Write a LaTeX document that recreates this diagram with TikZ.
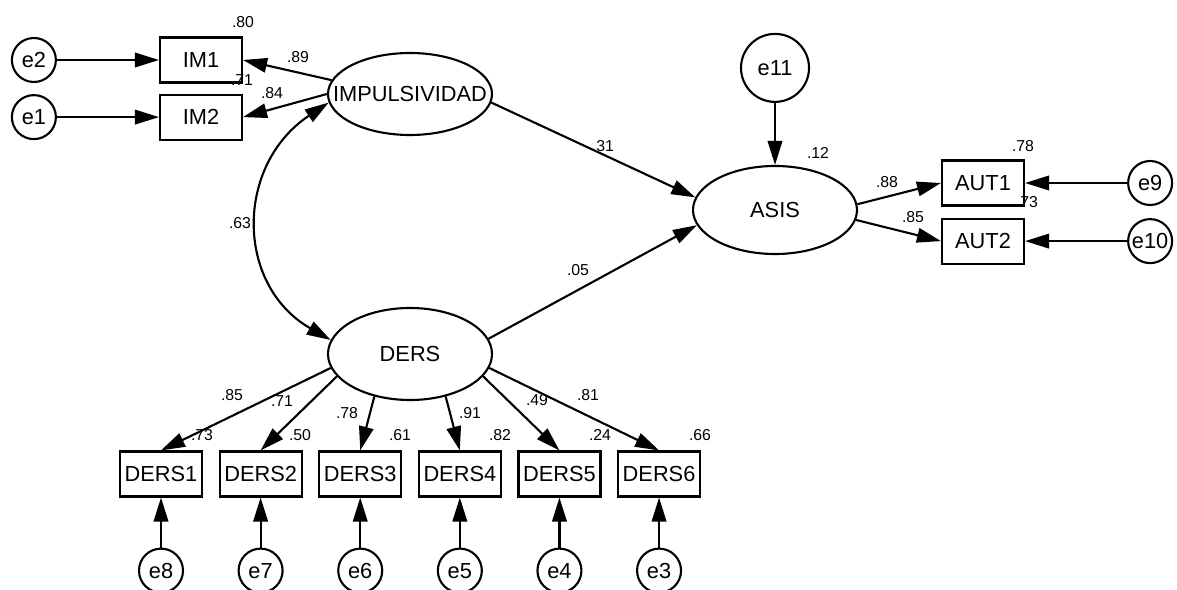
\documentclass[tikz,border=0pt]{standalone}
\usepackage{fontspec}
\setmainfont{Liberation Sans}
\usetikzlibrary{arrows.meta,positioning,shapes.geometric}
\tikzset{
  % Base styles
  sem base/.style={
    x=0.2mm, y=-0.2mm,
    >={Triangle[length=4.8mm,width=2.9mm]},
    line width=1.2pt,
    every node/.style={font=\fontsize{12.4}{14}\selectfont},
  },
  % Latent variables
  latent node/.style={ellipse, draw, line width=1.2pt, minimum width=32.8mm, minimum height=17.6mm, inner sep=0pt},
  % Observed variables
  observed node/.style={rectangle, draw, line width=1.2pt, minimum width=16.4mm, minimum height=9mm, inner sep=0pt},
  % Error terms
  error node/.style={circle, draw, line width=1.2pt, minimum size=8.8mm, inner sep=0pt},
  % Estimates
  estimate/.style={font=\fontsize{9}{10}\selectfont, inner sep=0pt},
}

\begin{document}
\begin{tikzpicture}[sem base]
  \useasboundingbox (0,0) rectangle (1177,590);
  \node[latent node, minimum height=16.4mm] (IMP) at (410,94) {\makebox[0pt]{IMPULSIVIDAD}};
  \node[latent node] (ASIS) at (775,210) {ASIS};
  \node[latent node, minimum height=18.4mm] (DERS) at (410,354) {DERS};
  \node[observed node] (IM1) at (201,60) {IM1};
  \node[observed node, below=2.0mm of IM1] (IM2) {IM2};
  \node[observed node] (AUT1) at (983,183) {AUT1};
  \node[observed node, below=2.2mm of AUT1] (AUT2) {AUT2};
  \node[observed node] (DERS1) at (161,474) {DERS1};
  \node[observed node, right=3.1mm of DERS1] (DERS2) {DERS2};
  \node[observed node, right=3.1mm of DERS2] (DERS3) {DERS3};
  \node[observed node, right=3.1mm of DERS3] (DERS4) {DERS4};
  \node[observed node, right=3.1mm of DERS4] (DERS5) {DERS5};
  \node[observed node, right=3.1mm of DERS5] (DERS6) {DERS6};
  \node[error node, left=20.4mm of IM1] (e2) {e2};
  \node[error node, left=20.4mm of IM2] (e1) {e1};
  \node[error node, right=20.4mm of AUT1] (e9) {e9};
  \node[error node, right=20.4mm of AUT2] (e10) {e10};
  \node[error node, minimum size=13.6mm, above=12.4mm of ASIS] (e11) {e11};
  \node[error node, below=10mm of DERS1] (e8) {e8};
  \node[error node, below=10mm of DERS2] (e7) {e7};
  \node[error node, below=10mm of DERS3] (e6) {e6};
  \node[error node, below=10mm of DERS4] (e5) {e5};
  \node[error node, below=10mm of DERS5] (e4) {e4};
  \node[error node, below=10mm of DERS6] (e3) {e3};
  \draw[->] (e2) -- (IM1);
  \draw[->] (e1) -- (IM2);
  \draw[->] (IMP.170) -- (IM1.east);
  \draw[->] (IMP.180) -- (IM2.east);
  \draw[<->] (IMP.186) .. controls (235,165) and (235,285) .. (DERS.170);
  \draw[->] (IMP.354) -- (ASIS.171);
  \draw[->] (DERS.11) -- (ASIS.191);
  \draw[->] (e11) -- (ASIS);
  \draw[->] (ASIS.4) -- (AUT1.west);
  \draw[->] (ASIS.353) -- (AUT2.west);
  \draw[->] (e9) -- (AUT1);
  \draw[->] (e10) -- (AUT2);
  \draw[->] (DERS.190) -- (DERS1.north);
  \draw[->] (DERS.197) -- (DERS2.north);
  \draw[->] (DERS.230) -- (DERS3.north);
  \draw[->] (DERS.310) -- (DERS4.north);
  \draw[->] (DERS.343) -- (DERS5.north);
  \draw[->] (DERS.350) -- (DERS6.north);
  \draw[->] (e8) -- (DERS1);
  \draw[->] (e7) -- (DERS2);
  \draw[->] (e6) -- (DERS3);
  \draw[->] (e5) -- (DERS4);
  \draw[->] (e4) -- (DERS5);
  \draw[->] (e3) -- (DERS6);
  \node[estimate] (r2IM1) at (243,22) {.80};
  \node[estimate] (bIM1) at (298,57) {.89};
  \node[estimate] (r2IM2) at (242,80) {.71};
  \node[estimate] (bIM2) at (272,93) {.84};
  \node[estimate] (cIMPDERS) at (240,223) {.63};
  \node[estimate] (bIMP) at (603,146) {.31};
  \node[estimate] (bDERS) at (578,270) {.05};
  \node[estimate] (r2ASIS) at (818,153) {.12};
  \node[estimate] (bAUT1) at (887,182) {.88};
  \node[estimate] (bAUT2) at (913,217) {.85};
  \node[estimate] (r2AUT1) at (1023,146) {.78};
  \node[estimate] (r2AUT2) at (1027,202) {.73};
  \node[estimate] (bDERS1) at (232,395) {.85};
  \node[estimate] (bDERS2) at (282,401) {.71};
  \node[estimate] (bDERS3) at (347,413) {.78};
  \node[estimate] (bDERS4) at (470,413) {.91};
  \node[estimate] (bDERS5) at (537,400) {.49};
  \node[estimate] (bDERS6) at (588,395) {.81};
  \node[estimate] (r2DERS1) at (202,435) {.73};
  \node[estimate] (r2DERS2) at (300,435) {.50};
  \node[estimate] (r2DERS3) at (400,435) {.61};
  \node[estimate] (r2DERS4) at (500,435) {.82};
  \node[estimate] (r2DERS5) at (600,435) {.24};
  \node[estimate] (r2DERS6) at (700,435) {.66};
\end{tikzpicture}
\end{document}
